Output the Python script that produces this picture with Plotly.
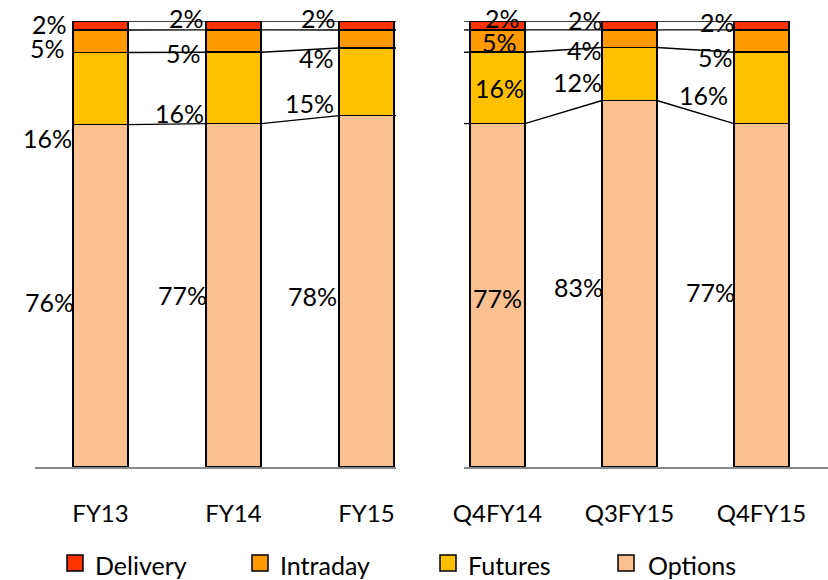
import plotly.graph_objects as go

# ---- data -------------------------------------------------------------
annual_periods = ["FY13", "FY14", "FY15"]
quarter_periods = ["Q4FY14", "Q3FY15", "Q4FY15"]

series_names = ["Options", "Futures", "Intraday", "Delivery"]  # bottom -> top

options_annual = [76, 77, 78]
futures_annual = [16, 16, 15]
intraday_annual = [5, 5, 4]
delivery_annual = [2, 2, 2]

options_quarter = [77, 83, 77]
futures_quarter = [16, 12, 16]
intraday_quarter = [5, 4, 5]
delivery_quarter = [2, 2, 2]

# ---- styling ------------------------------------------------------------
W, H = 828, 580
colors = {"Delivery": "#FF3300", "Intraday": "#FF9900",
          "Futures": "#FFC000", "Options": "#FAC090"}
legend_order = ["Delivery", "Intraday", "Futures", "Options"]
FONT = "Lato, 'Open Sans', sans-serif"
BAR_W = 0.415

# label placement tweaks (pixels), per period, order Options/Futures/Intraday/Delivery
label_dx_annual = [[3, 1, -6, -4], [3, 0, -3, 0], [0, -3, -3, -1]]
label_dy_annual = [[6, 49, 7, -1.5], [0, 25, 12, -7.5], [5, 21, 19, -7.5]]
label_dx_quarter = [[0, 2, 2, 5], [3, 2, 2, 3], [3, -4, 1, 3]]
label_dy_quarter = [[3, 0, 1, -7.5], [3, 8, 11, -5.5], [-3, 7, 16, -3.5]]
label_inside_quarter = [True, False, False]


def px_x(p):
    return p / W


def px_y(p):
    return 1 - p / H


fig = go.Figure()

panels = [
    dict(cats=annual_periods,
         vals=[options_annual, futures_annual, intraday_annual, delivery_annual],
         xa="x", ya="y", dx=label_dx_annual, dy=label_dy_annual,
         inside=[False, False, False], rng=[-0.4925, 2.222]),
    dict(cats=quarter_periods,
         vals=[options_quarter, futures_quarter, intraday_quarter, delivery_quarter],
         xa="x2", ya="y2", dx=label_dx_quarter, dy=label_dy_quarter,
         inside=label_inside_quarter, rng=[-0.254, 2.504]),
]

annotations = []
for panel in panels:
    n = len(panel["cats"])
    xs = list(range(n))
    totals = [sum(v[i] for v in panel["vals"]) for i in xs]
    # stacked bars, normalised to 100%
    for name, vals in zip(series_names, panel["vals"]):
        fig.add_trace(go.Bar(
            x=xs, y=vals, name=name, width=BAR_W,
            marker=dict(color=colors[name], line=dict(color="#000000", width=1.5)),
            xaxis=panel["xa"], yaxis=panel["ya"], showlegend=False,
            hoverinfo="skip"))
    # cumulative (normalised) tops and segment centres
    cum_tops = []
    centres = []
    for i in xs:
        run = 0.0
        tops, mids = [], []
        for vals in panel["vals"]:
            share = vals[i] / totals[i] * 100
            mids.append(run + share / 2)
            run += share
            tops.append(run)
        cum_tops.append(tops)
        centres.append(mids)
    # series lines linking segment tops between neighbouring bars
    lx, ly = [], []
    for s in range(len(series_names)):
        for i in range(n - 1):
            lx += [i + BAR_W / 2, i + 1 - BAR_W / 2, None]
            ly += [cum_tops[i][s], cum_tops[i + 1][s], None]
        if panel["xa"] == "x":
            lx += [n - 1 + BAR_W / 2, panel["rng"][1], None]
            ly += [cum_tops[n - 1][s], cum_tops[n - 1][s], None]
        else:
            lx += [panel["rng"][0], -BAR_W / 2, None]
            ly += [cum_tops[0][s], cum_tops[0][s], None]
    fig.add_trace(go.Scatter(
        x=lx, y=ly, mode="lines", line=dict(color="#000000", width=1.4),
        xaxis=panel["xa"], yaxis=panel["ya"], showlegend=False, hoverinfo="skip"))
    # percentage labels
    for i in xs:
        for s, vals in enumerate(panel["vals"]):
            inside = panel["inside"][i]
            annotations.append(dict(
                x=i if inside else i - BAR_W / 2, y=centres[i][s],
                xref=panel["xa"], yref=panel["ya"],
                text=f"{vals[i]}%", showarrow=False,
                xanchor="center" if inside else "right", yanchor="middle",
                xshift=panel["dx"][i][s], yshift=-panel["dy"][i][s],
                font=dict(family=FONT, size=25, color="#000000")))

# legend drawn as coloured squares plus text
legend_sq_x = [67, 252, 440, 618]
legend_txt_x = [95, 280, 468, 648]
shapes = []
for name, sx, tx in zip(legend_order, legend_sq_x, legend_txt_x):
    shapes.append(dict(type="rect", xref="paper", yref="paper",
                       x0=px_x(sx), x1=px_x(sx + 16), y0=px_y(571), y1=px_y(555),
                       fillcolor=colors[name], line=dict(color="#000000", width=1.5)))
    annotations.append(dict(x=px_x(tx - 2), y=px_y(565), xref="paper", yref="paper",
                            text=name, showarrow=False, xanchor="left", yanchor="middle",
                            font=dict(family=FONT, size=25, color="#000000")))

axis_common = dict(showgrid=False, zeroline=False, showline=True,
                   linecolor="#898989", linewidth=2, ticks="",
                   tickfont=dict(family=FONT, size=24, color="#000000"),
                   ticklabelstandoff=24, fixedrange=True, automargin=False)
yaxis_common = dict(range=[0, 100], visible=False, showgrid=False, zeroline=False,
                    domain=[1 - 467 / H, 1 - 21 / H], fixedrange=True,
                    automargin=False)

fig.update_layout(
    template="none",
    width=W, height=H,
    margin=dict(l=0, r=0, t=0, b=0, pad=0, autoexpand=False),
    paper_bgcolor="white", plot_bgcolor="white",
    barmode="stack", barnorm="percent",
    showlegend=False,
    xaxis=dict(domain=[px_x(35), px_x(396)], range=panels[0]["rng"],
               tickvals=[0, 1, 2], ticktext=annual_periods, anchor="y", **axis_common),
    xaxis2=dict(domain=[px_x(464), 1.0], range=panels[1]["rng"],
                tickvals=[0, 1, 2], ticktext=quarter_periods, anchor="y2", **axis_common),
    yaxis=dict(anchor="x", **yaxis_common),
    yaxis2=dict(anchor="x2", **yaxis_common),
    annotations=annotations,
    shapes=shapes,
)

fig.write_html("out.html")
